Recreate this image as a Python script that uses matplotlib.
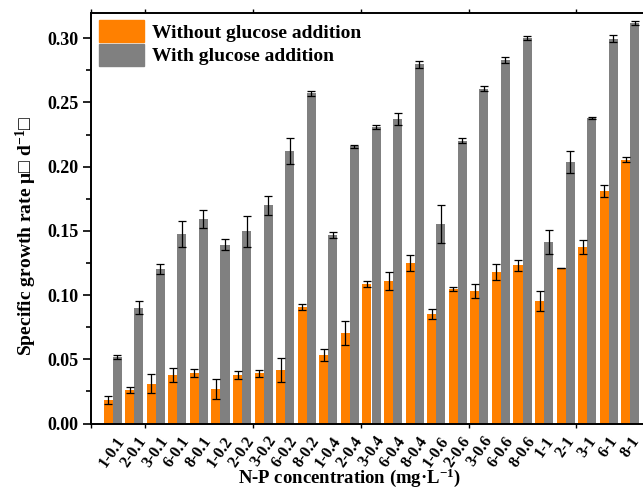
import numpy as np
import matplotlib
matplotlib.use("Agg")
import matplotlib.pyplot as plt
from matplotlib.ticker import FixedLocator, MultipleLocator
from matplotlib.patches import Patch

plt.rcParams["font.family"] = ["Liberation Serif", "DejaVu Serif"]
plt.rcParams["font.weight"] = "bold"
plt.rcParams["mathtext.fontset"] = "custom"
plt.rcParams["mathtext.rm"] = "Liberation Serif:bold"
plt.rcParams["mathtext.bf"] = "Liberation Serif:bold"
plt.rcParams["mathtext.default"] = "bf"

# -------------------
# Data
# -------------------
labels = ["1-0.1", "2-0.1", "3-0.1", "6-0.1", "8-0.1",
          "1-0.2", "2-0.2", "3-0.2", "6-0.2", "8-0.2",
          "1-0.4", "2-0.4", "3-0.4", "6-0.4", "8-0.4",
          "1-0.6", "2-0.6", "3-0.6", "6-0.6", "8-0.6",
          "1-1", "2-1", "3-1", "6-1", "8-1"]

without_glucose = [0.0183, 0.0259, 0.0310, 0.0378, 0.0393,
                   0.0266, 0.0378, 0.0391, 0.0419, 0.0907,
                   0.0533, 0.0705, 0.1086, 0.1112, 0.1250,
                   0.0853, 0.1047, 0.1032, 0.1180, 0.1232,
                   0.0954, 0.1211, 0.1375, 0.1808, 0.2055]
without_err = [0.0034, 0.0025, 0.0075, 0.0052, 0.0031,
               0.0078, 0.0034, 0.0026, 0.0093, 0.0023,
               0.0049, 0.0090, 0.0023, 0.0069, 0.0065,
               0.0039, 0.0016, 0.0058, 0.0065, 0.0043,
               0.0078, 0.0000, 0.0055, 0.0048, 0.0019]

with_glucose = [0.0518, 0.0902, 0.1203, 0.1478, 0.1593,
                0.1393, 0.1497, 0.1700, 0.2122, 0.2570,
                0.1468, 0.2157, 0.2308, 0.2374, 0.2797,
                0.1551, 0.2200, 0.2608, 0.2829, 0.3002,
                0.1411, 0.2036, 0.2379, 0.2995, 0.3117]
with_err = [0.0014, 0.0049, 0.0036, 0.0101, 0.0069,
            0.0043, 0.0122, 0.0073, 0.0103, 0.0017,
            0.0026, 0.0010, 0.0014, 0.0047, 0.0026,
            0.0148, 0.0019, 0.0018, 0.0022, 0.0016,
            0.0095, 0.0084, 0.0008, 0.0026, 0.0017]

# -------------------
# Plot
# -------------------
orange = "#FF8000"
grey = "#808080"
w = 0.42
x = np.arange(len(labels))

fig = plt.figure(figsize=(6.43, 4.88), dpi=100)
ax = fig.add_axes([91 / 643, 64.5 / 488, 561 / 643, 411 / 488])

ax.bar(x - w / 2, without_glucose, w, color=orange, yerr=without_err,
       error_kw=dict(ecolor="black", elinewidth=0.9, capsize=3, capthick=0.9))
ax.bar(x + w / 2, with_glucose, w, color=grey, yerr=with_err,
       error_kw=dict(ecolor="black", elinewidth=0.9, capsize=3, capthick=0.9))

ax.set_xlim(-1, 25)
ax.set_ylim(0, 0.32)

# y axis
ax.yaxis.set_major_locator(MultipleLocator(0.05))
ax.yaxis.set_minor_locator(MultipleLocator(0.025))
ax.set_yticklabels([f"{v:.2f}" for v in ax.get_yticks()])
ax.tick_params(axis="y", which="major", direction="out", length=6, width=1.2,
               labelsize=13, pad=3)
ax.tick_params(axis="y", which="minor", direction="out", length=3.5, width=1.2)

# x axis: labels at each group, marks on a 2.5 grid
ax.set_xticks(x)
ax.set_xticklabels(labels, rotation=55, ha="center", va="top", fontsize=11.5)
ax.xaxis.set_minor_locator(FixedLocator(np.arange(-1, 25, 2.5)))
ax.tick_params(axis="x", which="major", length=0, pad=7)
ax.tick_params(axis="x", which="minor", direction="out", length=3, width=1,
               top=True)

for s in ax.spines.values():
    s.set_linewidth(1.4)

ax.set_ylabel("Specific growth rate \u03bc\u25a1 d$^{-1}$\u25a1", fontsize=14,
              fontweight="bold")
ax.yaxis.set_label_coords(-0.093, 0.456)
ax.set_xlabel("N-P concentration (mg\u00b7L$^{-1}$)", fontsize=13.5,
              fontweight="bold")
ax.xaxis.set_label_coords((350 - 91) / 561, -0.104)

handles = [Patch(color=orange), Patch(color=grey)]
ax.legend(handles, ["Without glucose addition", "With glucose addition"],
          loc="upper left", frameon=False,
          prop={"weight": "bold", "size": 14},
          handlelength=2.35, handleheight=1.35, labelspacing=0.1,
          handletextpad=0.4, borderaxespad=0.25, borderpad=0.15)

plt.savefig("out.png", dpi=100)
plt.close()
